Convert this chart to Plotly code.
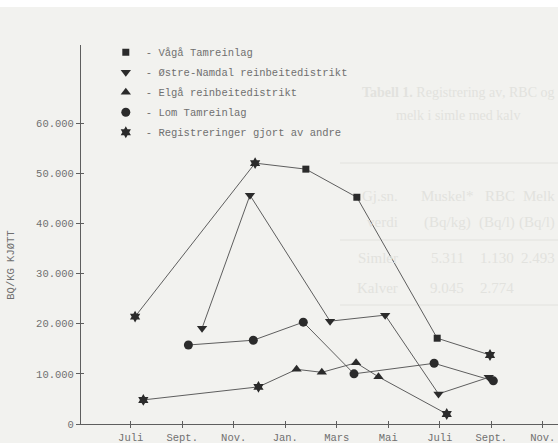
import plotly.graph_objects as go

# ---- data (x = months after first July; 0=Juli, 2=Sept., ... 16=Nov.) ----
month_ticks = [0, 2, 4, 6, 8, 10, 12, 14, 16]
month_labels = ["Juli", "Sept.", "Nov.", "Jan.", "Mars", "Mai", "Juli", "Sept.", "Nov."]
y_ticks = [0, 10000, 20000, 30000, 40000, 50000, 60000]
y_labels = ["0", "10.000", "20.000", "30.000", "40.000", "50.000", "60.000"]

vaga_x = [6.8, 8.78, 11.9]
vaga_y = [50800, 45200, 17100]

namdal_x = [2.77, 4.63, 7.74, 9.88, 11.95, 13.9]
namdal_y = [19100, 45600, 20500, 21700, 6000, 9300]

elga_x = [6.44, 7.42, 8.75, 9.62]
elga_y = [10900, 10300, 12200, 9400]

lom_x = [2.24, 4.76, 6.7, 8.67, 11.78, 14.08]
lom_y = [15750, 16700, 20300, 10000, 12100, 8600]

andre_x = [0.17, 4.83, 13.95, 0.49, 4.96, 12.27]
andre_y = [21400, 52000, 13750, 4800, 7400, 2000]

names = ["- Vågå Tamreinlag", "- Østre-Namdal reinbeitedistrikt",
         "- Elgå reinbeitedistrikt", "- Lom Tamreinlag",
         "- Registreringer gjort av andre"]

# connected paths (the survey lines join the "andre" points)
top_x = andre_x[0:2] + vaga_x + [andre_x[2]]
top_y = andre_y[0:2] + vaga_y + [andre_y[2]]
low_x = andre_x[3:5] + elga_x + [andre_x[5]]
low_y = andre_y[3:5] + elga_y + [andre_y[5]]

INK = "#2b2b2b"
LINE = "#5e5e5e"
TXT = "#707070"
FONT = "Liberation Mono"
BG = "#f2f2ef"

fig = go.Figure()
for px, py in [(top_x, top_y), (namdal_x, namdal_y), (low_x, low_y), (lom_x, lom_y)]:
    fig.add_trace(go.Scatter(x=px, y=py, mode="lines", showlegend=False,
                             line=dict(color=LINE, width=1), hoverinfo="skip"))

marker_sets = [
    (vaga_x, vaga_y, "square", 7),
    (namdal_x, namdal_y, "triangle-down", 9),
    (elga_x, elga_y, "triangle-up", 9),
    (lom_x, lom_y, "circle", 9),
    (andre_x, andre_y, "hexagram", 9),
]
for i, ((mx, my, sym, sz), nm) in enumerate(zip(marker_sets, names)):
    fig.add_trace(go.Scatter(x=mx, y=my, mode="markers", name=nm, legendgroup=f"g{i}",
                             marker=dict(symbol=sym, size=sz, color=INK, line=dict(width=0))))

# overlay axes for ticks crossing the axis lines
fig.add_trace(go.Scatter(x=[], y=[], xaxis="x2", yaxis="y2", showlegend=False))

XR = [-1.93, 16.59]
YR = [0, 75548]
fig.update_layout(
    width=558, height=443,
    margin=dict(l=81, r=0, t=45, b=19),
    paper_bgcolor=BG, plot_bgcolor=BG,
    font=dict(family=FONT, size=10.5, color=TXT),
    showlegend=True,
    legend=dict(x=0.052, y=1.019, xanchor="left", yanchor="top",
                bgcolor="rgba(0,0,0,0)", tracegroupgap=1,
                font=dict(family=FONT, size=10.5, color=TXT)),
    xaxis=dict(range=XR, tickvals=month_ticks, ticktext=month_labels,
               showgrid=False, zeroline=False, showline=True, linecolor=LINE, linewidth=1,
               ticks="outside", ticklen=3, tickcolor=LINE, tickwidth=1),
    yaxis=dict(range=YR, tickvals=y_ticks, ticktext=y_labels,
               showgrid=False, zeroline=False, showline=True, linecolor=LINE, linewidth=1,
               ticks="outside", ticklen=4, tickcolor=LINE, tickwidth=1),
    xaxis2=dict(range=XR, overlaying="x", matches="x", tickvals=month_ticks, showticklabels=False,
                showgrid=False, zeroline=False, ticks="inside", ticklen=3, tickcolor=LINE),
    yaxis2=dict(range=YR, overlaying="y", matches="y", tickvals=y_ticks, showticklabels=False,
                showgrid=False, zeroline=False, ticks="inside", ticklen=3, tickcolor=LINE),
    shapes=[dict(type="rect", xref="paper", yref="paper", x0=-0.17, x1=1.0,
                 y0=1.1003, y1=1.1187, fillcolor="white", line=dict(width=0), layer="above")],
)

# y-axis title placed as in the scan
fig.add_annotation(text="BQ/KG KJØTT", xref="paper", yref="paper", x=-0.147, y=0.42,
                   xanchor="center", yanchor="middle",
                   textangle=-90, showarrow=False, font=dict(family=FONT, size=10.5, color=TXT))

# faint show-through text from the facing page
ghost = "#e2e2de"
SER = "Liberation Serif"
def g(text, px, py, anchor="center", size=15):
    fig.add_annotation(text=text, xref="paper", yref="paper",
                       x=(px - 81) / 477, y=(424 - py) / 379, xanchor=anchor, yanchor="middle",
                       showarrow=False, font=dict(family=SER, size=size, color=ghost))
g("<b>Tabell 1.</b> Registrering av", 360, 92, "left", 14)
g(", RBC og", 557, 92, "right", 14)
g("melk i simle med kalv", 458, 116, "center", 14)
g("Gj.sn.", 400, 196, "right"); g("Muskel*", 447, 196); g("RBC", 500, 196); g("Melk", 557, 196, "right")
g("verdi", 400, 222, "right"); g("(Bq/kg)", 447, 222); g("(Bq/l)", 497, 222); g("(Bq/l)", 557, 222, "right")
g("Simler", 400, 258, "right"); g("5.311", 447, 258); g("1.130", 497, 258); g("2.493", 557, 258, "right")
g("Kalver", 400, 288, "right"); g("9.045", 447, 288); g("2.774", 497, 288)
for ry in [163, 240, 305]:
    fig.add_shape(type="line", xref="paper", yref="paper", x0=(340 - 81) / 477, x1=1.0,
                  y0=(424 - ry) / 379, y1=(424 - ry) / 379, line=dict(color=ghost, width=1),
                  layer="below")

fig.write_html("out.html", config={"displayModeBar": False},
               post_script="document.body.style.margin='0';")
